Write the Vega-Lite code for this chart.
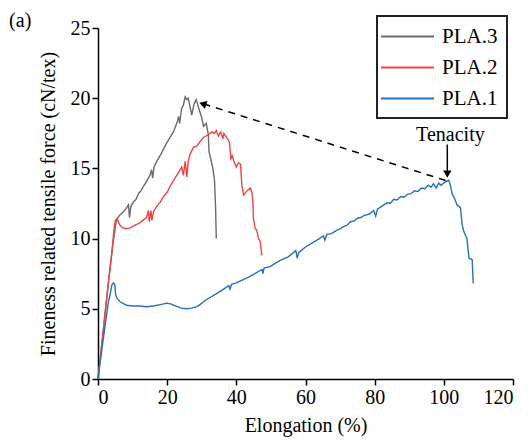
{
  "$schema": "https://vega.github.io/schema/vega-lite/v6.json",
  "width": 415,
  "height": 351,
  "autosize": "none",
  "padding": {"left": 98, "top": 28, "right": 18, "bottom": 65},
  "background": "white",
  "config": {
    "font": "Liberation Serif",
    "view": {"stroke": null},
    "axis": {
      "labelFont": "Liberation Serif", "labelFontSize": 20, "labelColor": "black",
      "titleFont": "Liberation Serif", "titleFontSize": 20, "titleFontWeight": "normal", "titleColor": "black",
      "domainColor": "black", "domainWidth": 1.5, "tickColor": "black", "tickWidth": 1.5, "tickSize": 6,
      "grid": false, "labelPadding": 2
    },
    "legend": {"labelFont": "Liberation Serif", "labelFontSize": 21, "labelColor": "black"}
  },
  "datasets": {
    "curves": [
      {"s": "PLA.3", "x": 0, "y": 0}, {"s": "PLA.3", "x": 1, "y": 2.2}, {"s": "PLA.3", "x": 2, "y": 4.5}, {"s": "PLA.3", "x": 3, "y": 6.8}, {"s": "PLA.3", "x": 4, "y": 9.0}, {"s": "PLA.3", "x": 5, "y": 10.8}, {"s": "PLA.3", "x": 5.4, "y": 11.4}, {"s": "PLA.3", "x": 6.4, "y": 11.7}, {"s": "PLA.3", "x": 7.3, "y": 11.9}, {"s": "PLA.3", "x": 8.3, "y": 12.2}, {"s": "PLA.3", "x": 8.8, "y": 12.4}, {"s": "PLA.3", "x": 9.1, "y": 11.5}, {"s": "PLA.3", "x": 9.5, "y": 12.3}, {"s": "PLA.3", "x": 10.2, "y": 12.6}, {"s": "PLA.3", "x": 11.0, "y": 12.8}, {"s": "PLA.3", "x": 11.7, "y": 13.2}, {"s": "PLA.3", "x": 12.4, "y": 13.4}, {"s": "PLA.3", "x": 13.1, "y": 13.7}, {"s": "PLA.3", "x": 14.1, "y": 14.1}, {"s": "PLA.3", "x": 15.0, "y": 14.5}, {"s": "PLA.3", "x": 15.5, "y": 14.9}, {"s": "PLA.3", "x": 15.8, "y": 14.3}, {"s": "PLA.3", "x": 16.2, "y": 15.1}, {"s": "PLA.3", "x": 17.0, "y": 15.5}, {"s": "PLA.3", "x": 18.4, "y": 16.1}, {"s": "PLA.3", "x": 19.4, "y": 16.6}, {"s": "PLA.3", "x": 20.8, "y": 17.2}, {"s": "PLA.3", "x": 21.8, "y": 17.6}, {"s": "PLA.3", "x": 22.6, "y": 18.1}, {"s": "PLA.3", "x": 23.0, "y": 18.4}, {"s": "PLA.3", "x": 23.3, "y": 18.7}, {"s": "PLA.3", "x": 23.6, "y": 18.2}, {"s": "PLA.3", "x": 24.2, "y": 19.3}, {"s": "PLA.3", "x": 24.7, "y": 19.5}, {"s": "PLA.3", "x": 25.2, "y": 20.1}, {"s": "PLA.3", "x": 25.7, "y": 19.9}, {"s": "PLA.3", "x": 26.1, "y": 20.0}, {"s": "PLA.3", "x": 26.6, "y": 19.4}, {"s": "PLA.3", "x": 27.1, "y": 18.8}, {"s": "PLA.3", "x": 27.8, "y": 19.6}, {"s": "PLA.3", "x": 28.4, "y": 19.9}, {"s": "PLA.3", "x": 29.0, "y": 19.4}, {"s": "PLA.3", "x": 30.0, "y": 18.6}, {"s": "PLA.3", "x": 30.5, "y": 18.0}, {"s": "PLA.3", "x": 31.3, "y": 18.2}, {"s": "PLA.3", "x": 31.9, "y": 17.4}, {"s": "PLA.3", "x": 32.1, "y": 16.2}, {"s": "PLA.3", "x": 32.6, "y": 15.7}, {"s": "PLA.3", "x": 33.2, "y": 15.0}, {"s": "PLA.3", "x": 33.7, "y": 14.1}, {"s": "PLA.3", "x": 34.0, "y": 12.2}, {"s": "PLA.3", "x": 34.2, "y": 10.0},

      {"s": "PLA.2", "x": 0, "y": 0}, {"s": "PLA.2", "x": 1, "y": 2.3}, {"s": "PLA.2", "x": 2, "y": 4.6}, {"s": "PLA.2", "x": 3, "y": 6.9}, {"s": "PLA.2", "x": 4, "y": 9.0}, {"s": "PLA.2", "x": 4.6, "y": 10.6}, {"s": "PLA.2", "x": 5.0, "y": 11.3}, {"s": "PLA.2", "x": 5.6, "y": 11.4}, {"s": "PLA.2", "x": 6.2, "y": 11.0}, {"s": "PLA.2", "x": 7.0, "y": 10.8}, {"s": "PLA.2", "x": 8.0, "y": 10.7}, {"s": "PLA.2", "x": 9.0, "y": 10.75}, {"s": "PLA.2", "x": 10.0, "y": 10.85}, {"s": "PLA.2", "x": 11.0, "y": 11.0}, {"s": "PLA.2", "x": 12.0, "y": 11.1}, {"s": "PLA.2", "x": 13.0, "y": 11.3}, {"s": "PLA.2", "x": 14.0, "y": 11.5}, {"s": "PLA.2", "x": 14.6, "y": 12.0}, {"s": "PLA.2", "x": 14.8, "y": 11.2}, {"s": "PLA.2", "x": 15.3, "y": 12.0}, {"s": "PLA.2", "x": 15.6, "y": 11.3}, {"s": "PLA.2", "x": 16.0, "y": 11.9}, {"s": "PLA.2", "x": 17.0, "y": 12.3}, {"s": "PLA.2", "x": 18.0, "y": 12.6}, {"s": "PLA.2", "x": 19.0, "y": 13.0}, {"s": "PLA.2", "x": 20.0, "y": 13.3}, {"s": "PLA.2", "x": 21.0, "y": 13.8}, {"s": "PLA.2", "x": 22.0, "y": 14.2}, {"s": "PLA.2", "x": 23.0, "y": 14.6}, {"s": "PLA.2", "x": 24.2, "y": 15.1}, {"s": "PLA.2", "x": 24.7, "y": 14.5}, {"s": "PLA.2", "x": 25.2, "y": 15.5}, {"s": "PLA.2", "x": 25.7, "y": 14.4}, {"s": "PLA.2", "x": 26.1, "y": 15.5}, {"s": "PLA.2", "x": 26.6, "y": 16.0}, {"s": "PLA.2", "x": 27.6, "y": 16.5}, {"s": "PLA.2", "x": 28.6, "y": 16.6}, {"s": "PLA.2", "x": 29.5, "y": 16.9}, {"s": "PLA.2", "x": 30.5, "y": 17.2}, {"s": "PLA.2", "x": 31.9, "y": 17.4}, {"s": "PLA.2", "x": 32.9, "y": 17.6}, {"s": "PLA.2", "x": 33.6, "y": 17.5}, {"s": "PLA.2", "x": 34.2, "y": 17.7}, {"s": "PLA.2", "x": 34.8, "y": 17.3}, {"s": "PLA.2", "x": 35.5, "y": 17.6}, {"s": "PLA.2", "x": 36.1, "y": 17.1}, {"s": "PLA.2", "x": 36.4, "y": 17.5}, {"s": "PLA.2", "x": 37.2, "y": 17.2}, {"s": "PLA.2", "x": 38.0, "y": 16.9}, {"s": "PLA.2", "x": 38.4, "y": 15.7}, {"s": "PLA.2", "x": 38.8, "y": 15.9}, {"s": "PLA.2", "x": 39.3, "y": 15.5}, {"s": "PLA.2", "x": 40.0, "y": 15.1}, {"s": "PLA.2", "x": 40.6, "y": 15.4}, {"s": "PLA.2", "x": 41.2, "y": 15.3}, {"s": "PLA.2", "x": 41.6, "y": 13.8}, {"s": "PLA.2", "x": 42.1, "y": 13.1}, {"s": "PLA.2", "x": 43.1, "y": 13.4}, {"s": "PLA.2", "x": 44.0, "y": 13.6}, {"s": "PLA.2", "x": 44.5, "y": 13.3}, {"s": "PLA.2", "x": 44.8, "y": 12.6}, {"s": "PLA.2", "x": 44.95, "y": 11.4}, {"s": "PLA.2", "x": 45.5, "y": 10.7}, {"s": "PLA.2", "x": 45.9, "y": 10.6}, {"s": "PLA.2", "x": 46.4, "y": 10.0}, {"s": "PLA.2", "x": 46.9, "y": 9.8}, {"s": "PLA.2", "x": 47.4, "y": 8.8},

      {"s": "PLA.1", "x": 0, "y": 0}, {"s": "PLA.1", "x": 1, "y": 1.9}, {"s": "PLA.1", "x": 2, "y": 3.7}, {"s": "PLA.1", "x": 3, "y": 5.5}, {"s": "PLA.1", "x": 3.5, "y": 6.0}, {"s": "PLA.1", "x": 4.0, "y": 6.7}, {"s": "PLA.1", "x": 4.5, "y": 6.85}, {"s": "PLA.1", "x": 4.9, "y": 6.7}, {"s": "PLA.1", "x": 5.1, "y": 6.0}, {"s": "PLA.1", "x": 5.6, "y": 5.7}, {"s": "PLA.1", "x": 6.4, "y": 5.5}, {"s": "PLA.1", "x": 7.5, "y": 5.35}, {"s": "PLA.1", "x": 8.3, "y": 5.25}, {"s": "PLA.1", "x": 10, "y": 5.2}, {"s": "PLA.1", "x": 12, "y": 5.2}, {"s": "PLA.1", "x": 14, "y": 5.15}, {"s": "PLA.1", "x": 16, "y": 5.2}, {"s": "PLA.1", "x": 18, "y": 5.3}, {"s": "PLA.1", "x": 19.9, "y": 5.4}, {"s": "PLA.1", "x": 21, "y": 5.35}, {"s": "PLA.1", "x": 22, "y": 5.25}, {"s": "PLA.1", "x": 23, "y": 5.15}, {"s": "PLA.1", "x": 24, "y": 5.05}, {"s": "PLA.1", "x": 25.7, "y": 5.0}, {"s": "PLA.1", "x": 27, "y": 5.05}, {"s": "PLA.1", "x": 28.6, "y": 5.15}, {"s": "PLA.1", "x": 29.5, "y": 5.3}, {"s": "PLA.1", "x": 30.5, "y": 5.5}, {"s": "PLA.1", "x": 32, "y": 5.75}, {"s": "PLA.1", "x": 34.4, "y": 6.1}, {"s": "PLA.1", "x": 36, "y": 6.35}, {"s": "PLA.1", "x": 37.8, "y": 6.65}, {"s": "PLA.1", "x": 38.2, "y": 6.4}, {"s": "PLA.1", "x": 38.6, "y": 6.75}, {"s": "PLA.1", "x": 40, "y": 6.85}, {"s": "PLA.1", "x": 43.1, "y": 7.2}, {"s": "PLA.1", "x": 45, "y": 7.45}, {"s": "PLA.1", "x": 47.4, "y": 7.8}, {"s": "PLA.1", "x": 47.7, "y": 7.5}, {"s": "PLA.1", "x": 48, "y": 7.9}, {"s": "PLA.1", "x": 49.8, "y": 8.0}, {"s": "PLA.1", "x": 51, "y": 8.2}, {"s": "PLA.1", "x": 52.7, "y": 8.45}, {"s": "PLA.1", "x": 55, "y": 8.7}, {"s": "PLA.1", "x": 56.5, "y": 9.0}, {"s": "PLA.1", "x": 57.2, "y": 9.15}, {"s": "PLA.1", "x": 57.6, "y": 8.6}, {"s": "PLA.1", "x": 58, "y": 9.0}, {"s": "PLA.1", "x": 60, "y": 9.4}, {"s": "PLA.1", "x": 62, "y": 9.7}, {"s": "PLA.1", "x": 64, "y": 10.0}, {"s": "PLA.1", "x": 65.2, "y": 10.2}, {"s": "PLA.1", "x": 65.6, "y": 9.9}, {"s": "PLA.1", "x": 66.2, "y": 10.3}, {"s": "PLA.1", "x": 67.5, "y": 10.35}, {"s": "PLA.1", "x": 69.1, "y": 10.6}, {"s": "PLA.1", "x": 70, "y": 10.7}, {"s": "PLA.1", "x": 71, "y": 10.85}, {"s": "PLA.1", "x": 72, "y": 10.95}, {"s": "PLA.1", "x": 73, "y": 11.2}, {"s": "PLA.1", "x": 74, "y": 11.25}, {"s": "PLA.1", "x": 75, "y": 11.45}, {"s": "PLA.1", "x": 76, "y": 11.5}, {"s": "PLA.1", "x": 77, "y": 11.65}, {"s": "PLA.1", "x": 78.5, "y": 11.75}, {"s": "PLA.1", "x": 79.7, "y": 12.0}, {"s": "PLA.1", "x": 80.3, "y": 11.6}, {"s": "PLA.1", "x": 80.8, "y": 12.1}, {"s": "PLA.1", "x": 82, "y": 12.3}, {"s": "PLA.1", "x": 83.6, "y": 12.55}, {"s": "PLA.1", "x": 84.5, "y": 12.5}, {"s": "PLA.1", "x": 85.5, "y": 12.8}, {"s": "PLA.1", "x": 86.5, "y": 12.75}, {"s": "PLA.1", "x": 87.5, "y": 13.0}, {"s": "PLA.1", "x": 88.5, "y": 12.95}, {"s": "PLA.1", "x": 89.4, "y": 13.15}, {"s": "PLA.1", "x": 90.5, "y": 13.2}, {"s": "PLA.1", "x": 91.5, "y": 13.4}, {"s": "PLA.1", "x": 92.5, "y": 13.35}, {"s": "PLA.1", "x": 93.5, "y": 13.6}, {"s": "PLA.1", "x": 94.5, "y": 13.55}, {"s": "PLA.1", "x": 95.5, "y": 13.8}, {"s": "PLA.1", "x": 96.3, "y": 13.65}, {"s": "PLA.1", "x": 97, "y": 13.9}, {"s": "PLA.1", "x": 97.8, "y": 13.6}, {"s": "PLA.1", "x": 98.5, "y": 13.95}, {"s": "PLA.1", "x": 99.2, "y": 13.8}, {"s": "PLA.1", "x": 100.2, "y": 14.0}, {"s": "PLA.1", "x": 101.4, "y": 14.15}, {"s": "PLA.1", "x": 101.8, "y": 13.9}, {"s": "PLA.1", "x": 102.4, "y": 13.2}, {"s": "PLA.1", "x": 103.2, "y": 12.8}, {"s": "PLA.1", "x": 103.8, "y": 12.4}, {"s": "PLA.1", "x": 104.8, "y": 12.2}, {"s": "PLA.1", "x": 105.3, "y": 11.0}, {"s": "PLA.1", "x": 105.8, "y": 10.5}, {"s": "PLA.1", "x": 106.7, "y": 10.0}, {"s": "PLA.1", "x": 107.0, "y": 9.2}, {"s": "PLA.1", "x": 107.3, "y": 8.6}, {"s": "PLA.1", "x": 108.2, "y": 8.5}, {"s": "PLA.1", "x": 108.5, "y": 6.8}
    ],
    "dash": [{"x": 30.5, "y": 19.6, "x2": 101, "y2": 14.1}],
    "dashHead": [{"x": 30.3, "y": 19.6}],
    "arrow": [{"x": 101, "y": 16.7, "y2": 14.8}],
    "arrowHead": [{"x": 101, "y": 14.6}],
    "labels": [{"x": 101.9, "y": 17.4, "t": "Tenacity"}, {"x": -22.5, "y": 25.5, "t": "(a)"}]
  },
  "encoding": {
    "x": {"field": "x", "type": "quantitative", "scale": {"domain": [0, 120], "nice": false, "zero": false}, "axis": {"values": [0, 20, 40, 60, 80, 100, 120], "title": "Elongation (%)", "titlePadding": 8}},
    "y": {"field": "y", "type": "quantitative", "scale": {"domain": [0, 25], "nice": false, "zero": false}, "axis": {"values": [0, 5, 10, 15, 20, 25], "title": "Fineness related tensile force (cN/tex)", "titlePadding": 12}}
  },
  "layer": [
    {
      "data": {"name": "curves"},
      "mark": {"type": "line", "strokeWidth": 1.4},
      "encoding": {
        "color": {
          "field": "s", "type": "nominal",
          "scale": {"domain": ["PLA.3", "PLA.2", "PLA.1"], "range": ["#6b6b6b", "#ef4444", "#2a6fba"]},
          "legend": {
            "title": null, "orient": "none", "legendX": 279, "legendY": -12,
            "strokeColor": "#222", "padding": 9, "symbolType": "M-1.57,0L3.48,0", "symbolSize": 441,
            "symbolStrokeWidth": 2, "labelOffset": 33, "rowPadding": 9, "labelFontSize": 21,
            "encode": {"legend": {"update": {"strokeWidth": {"value": 2}}}}
          }
        }
      }
    },
    {
      "data": {"name": "dash"},
      "mark": {"type": "rule", "strokeDash": [7, 6], "strokeWidth": 1.5, "color": "black"},
      "encoding": {"x2": {"field": "x2"}, "y2": {"field": "y2"}}
    },
    {
      "data": {"name": "dashHead"},
      "mark": {"type": "point", "shape": "triangle-left", "filled": true, "color": "black", "size": 70, "angle": 18, "opacity": 1}
    },
    {
      "data": {"name": "arrow"},
      "mark": {"type": "rule", "strokeWidth": 1.5, "color": "black"},
      "encoding": {"y2": {"field": "y2"}}
    },
    {
      "data": {"name": "arrowHead"},
      "mark": {"type": "point", "shape": "triangle-down", "filled": true, "color": "black", "size": 70, "opacity": 1}
    },
    {
      "data": {"name": "labels"},
      "mark": {"type": "text", "font": "Liberation Serif", "fontSize": 20, "color": "black"},
      "encoding": {"text": {"field": "t"}}
    }
  ]
}
